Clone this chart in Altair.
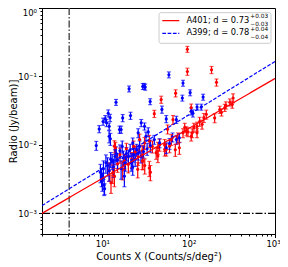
import altair as alt
import pandas as pd

# ---------------- data ----------------
series = ["A401", "A399"]
colors = ["#ff0000", "#0000ff"]

x_A401 = [96.6, 96.6, 184, 210, 48, 40, 70.6, 65.8, 107, 229, 262, 327, 320, 200, 125, 125, 110, 98, 86, 75,
          60, 55, 46, 42, 35, 36, 29.5, 25.7, 17.2, 13.8, 12.6, 13.8, 14.2, 30.8, 134, 143, 150, 160, 270, 300,
          240, 115, 94, 107, 78, 63, 52.7, 52.7, 44, 44, 29, 29, 26, 22, 20, 18, 16, 15, 19, 23,
          27, 35, 57, 90, 24, 12, 31, 70, 13.2, 38]
y_A401 = [0.25, 0.118, 0.125, 0.082, 0.046, 0.0286, 0.057, 0.0234, 0.035, 0.0328, 0.035, 0.0485, 0.039, 0.0248,
          0.0187, 0.015, 0.015, 0.0155, 0.015, 0.0127, 0.0096, 0.0086, 0.0101, 0.0077, 0.0046, 0.0040, 0.0058,
          0.0044, 0.0044, 0.0035, 0.0028, 0.0096, 0.0091, 0.0107, 0.022, 0.020, 0.025, 0.028, 0.038, 0.042,
          0.030, 0.018, 0.016, 0.0134, 0.0091, 0.012, 0.010, 0.0086, 0.0091, 0.0069, 0.0082, 0.0058, 0.0067,
          0.0062, 0.0052, 0.0058, 0.0072, 0.0053, 0.0088, 0.0095, 0.012, 0.0115, 0.017, 0.018, 0.0079, 0.0042,
          0.005, 0.0085, 0.0039, 0.0095]
f_A401 = [0.1, 0.12, 0.12, 0.12, 0.12, 0.12, 0.12, 0.15, 0.13, 0.12, 0.12, 0.15, 0.12, 0.15, 0.15, 0.15, 0.15,
          0.15, 0.15, 0.18, 0.2, 0.2, 0.2, 0.2, 0.25, 0.25, 0.25, 0.25, 0.3, 0.3, 0.3, 0.2, 0.2, 0.2, 0.15, 0.15,
          0.15, 0.15, 0.12, 0.12, 0.12, 0.15, 0.15, 0.15, 0.2, 0.18, 0.2, 0.2, 0.2, 0.2, 0.2, 0.25, 0.25, 0.25,
          0.25, 0.25, 0.25, 0.25, 0.2, 0.2, 0.2, 0.2, 0.15, 0.15, 0.22, 0.3, 0.25, 0.2, 0.3, 0.2]

x_A399 = [8.5, 9.2, 10.2, 10.8, 11.2, 11.7, 12.3, 14.4, 16.5, 17.2, 20.4, 21.2, 29.4, 30.6, 31.4, 28.2, 30.8,
          35.8, 49, 55, 59, 86, 104, 84.5, 147, 107, 125, 140, 112, 72, 72, 55, 46, 40, 32, 22.5, 21.6, 18,
          12, 12, 12.4, 15.8, 9.5, 9.8, 10, 10.3, 10.5, 10.6, 11, 11.5, 12, 12.5, 13, 13.5, 14, 14.5, 15, 16,
          16.5, 17, 17.5, 18.5, 19, 20, 21, 22, 22.5, 23, 24, 25, 26, 27, 28, 30, 33, 36, 60, 78, 65, 34, 26]
y_A399 = [0.0098, 0.0171, 0.022, 0.024, 0.021, 0.029, 0.025, 0.042, 0.0168, 0.0248, 0.066, 0.0268, 0.0716,
          0.072, 0.070, 0.021, 0.0187, 0.043, 0.033, 0.024, 0.106, 0.080, 0.058, 0.0485, 0.050, 0.031, 0.0358,
          0.0358, 0.029, 0.0234, 0.012, 0.0091, 0.0107, 0.012, 0.0134, 0.0107, 0.0055, 0.0035, 0.0134, 0.0187,
          0.0123, 0.0168, 0.004, 0.0035, 0.003, 0.0045, 0.0026, 0.0023, 0.0055, 0.005, 0.0042, 0.0062, 0.0058,
          0.0048, 0.0068, 0.0075, 0.006, 0.0082, 0.0045, 0.0095, 0.0065, 0.0055, 0.0075, 0.0068, 0.0085, 0.006,
          0.0048, 0.0072, 0.0062, 0.0085, 0.0075, 0.0095, 0.0068, 0.008, 0.0088, 0.0098, 0.0105, 0.0127, 0.013,
          0.0155, 0.015]
f_A399 = [0.15, 0.12, 0.12, 0.12, 0.12, 0.12, 0.12, 0.1, 0.12, 0.12, 0.1, 0.12, 0.1, 0.1, 0.1, 0.12, 0.12, 0.1,
          0.12, 0.12, 0.1, 0.1, 0.1, 0.1, 0.1, 0.12, 0.1, 0.1, 0.12, 0.12, 0.15, 0.18, 0.15, 0.15, 0.15, 0.18,
          0.25, 0.3, 0.2, 0.12, 0.2, 0.12, 0.3, 0.3, 0.3, 0.3, 0.3, 0.18, 0.3, 0.3, 0.3, 0.25, 0.25, 0.3, 0.25,
          0.25, 0.25, 0.22, 0.3, 0.2, 0.25, 0.25, 0.22, 0.22, 0.2, 0.25, 0.25, 0.22, 0.22, 0.2, 0.2, 0.2, 0.2,
          0.2, 0.2, 0.2, 0.18, 0.15, 0.15, 0.15, 0.15]

fit_slopes = [0.73, 0.78]
fit_norms = [1.0e-3, 1.3e-3]      # fit value at x = 2
fit_x = [2, 1000]
x_cut = [4.13]
y_cut = [1e-3]

legend_labels = ["A401; d = 0.73", "A399; d = 0.78"]
legend_sup = ["+0.03", "+0.04"]
legend_sub = ["\u22120.03", "\u22120.04"]

x_ticks = [2, 3, 4, 5, 6, 7, 8, 9, 10, 20, 30, 40, 50, 60, 70, 80, 90,
           100, 200, 300, 400, 500, 600, 700, 800, 900, 1000]
y_ticks = [0.0005, 0.0006, 0.0007, 0.0008, 0.0009, 0.001, 0.002, 0.003, 0.004, 0.005, 0.006, 0.007, 0.008,
           0.009, 0.01, 0.02, 0.03, 0.04, 0.05, 0.06, 0.07, 0.08, 0.09, 0.1, 0.2, 0.3, 0.4, 0.5, 0.6, 0.7,
           0.8, 0.9, 1]

# ---------------- tables ----------------
rows = []
for s, xs, ys, fs in [("A401", x_A401, y_A401, f_A401), ("A399", x_A399, y_A399, f_A399)]:
    for x, y, f in zip(xs, ys, fs):
        rows.append({"series": s, "x": x, "y": y, "lo": y * (1 - f), "hi": y * (1 + f)})
pts = pd.DataFrame(rows)

fit_rows = []
for s, d, n in zip(series, fit_slopes, fit_norms):
    for x in fit_x:
        fit_rows.append({"series": s, "x": x, "y": n * (x / fit_x[0]) ** d})
fits = pd.DataFrame(fit_rows)

# ---------------- scales / axes ----------------
xscale = alt.Scale(type="log", domain=[2, 1000], nice=False)
yscale = alt.Scale(type="log", domain=[5e-4, 1], nice=False)

x_axis = alt.Axis(
    values=x_ticks,
    title="Counts X (Counts/s/deg²)",
    labelExpr="datum.value == 10 ? '10¹' : datum.value == 100 ? '10²' : datum.value == 1000 ? '10³' : ''",
    tickSize={"condition": {"test": "datum.value == 10 || datum.value == 100 || datum.value == 1000",
                            "value": 3.5}, "value": 2},
    labelOffset={"condition": {"test": "datum.value == 1000", "value": -2}, "value": 0},
    labelFlush=False, labelOverlap=False, grid=False,
    labelFontSize=8.5, titleFontSize=10, labelPadding=2, titlePadding=3,
)
y_axis = alt.Axis(
    values=y_ticks,
    title="Radio (Jy/beam)]",
    labelExpr="datum.value == 1 ? '10⁰' : datum.value == 0.1 ? '10⁻¹' : datum.value == 0.01 ? '10⁻²' : datum.value == 0.001 ? '10⁻³' : ''",
    tickSize={"condition": {"test": "datum.value == 1 || datum.value == 0.1 || datum.value == 0.01 || datum.value == 0.001",
                            "value": 3.5}, "value": 2},
    labelBaseline={"condition": {"test": "datum.value == 1", "value": "top"}, "value": "middle"},
    labelFlush=False, labelOverlap=False, grid=False,
    labelFontSize=8.5, titleFontSize=10, labelPadding=2, titleX=-24,
)

X = alt.X("x:Q", scale=xscale, axis=x_axis)
color = alt.Color("series:N", scale=alt.Scale(domain=series, range=colors), legend=None)

err = alt.Chart(pts).mark_rule(strokeWidth=1.2).encode(
    x=X, y=alt.Y("lo:Q", scale=yscale, axis=y_axis), y2="hi:Q", color=color)
cap_lo = alt.Chart(pts).mark_tick(orient="horizontal", size=4, thickness=1.1).encode(
    x=X, y=alt.Y("lo:Q", scale=yscale, axis=y_axis), color=color)
cap_hi = alt.Chart(pts).mark_tick(orient="horizontal", size=4, thickness=1.1).encode(
    x=X, y=alt.Y("hi:Q", scale=yscale, axis=y_axis), color=color)
dots = alt.Chart(pts).mark_circle(size=10, opacity=1).encode(
    x=X, y=alt.Y("y:Q", scale=yscale, axis=y_axis), color=color)

fit_lines = alt.Chart(fits).mark_line(strokeWidth=1.2, clip=True).encode(
    x=X, y=alt.Y("y:Q", scale=yscale, axis=y_axis), color=color,
    strokeDash=alt.StrokeDash("series:N", scale=alt.Scale(domain=series, range=[[1, 0], [3.7, 1.6]]), legend=None),
)

vline = alt.Chart(pd.DataFrame({"x": x_cut})).mark_rule(
    color="#555555", strokeWidth=1.5, strokeDash=[7, 2, 1.5, 2]).encode(x=X)
hline = alt.Chart(pd.DataFrame({"y": y_cut})).mark_rule(
    color="black", strokeWidth=1.2, strokeDash=[7, 2, 1.5, 2]).encode(
    y=alt.Y("y:Q", scale=yscale, axis=y_axis))

# ---------------- legend (drawn by hand for super/subscripts) ----------------
one = pd.DataFrame({"k": [0]})
legend_layers = [
    alt.Chart(one).mark_rect(fill="white", fillOpacity=0.85, stroke="#cccccc", strokeWidth=1, cornerRadius=2).encode(
        x=alt.value(117), x2=alt.value(229), y=alt.value(4.7), y2=alt.value(35.3))
]
dashes = [[1, 0], [3.7, 1.6]]
for i in range(2):
    yy = 12.7 + i * 12.6
    legend_layers.append(
        alt.Chart(one).mark_rule(color=colors[i], strokeWidth=1.2, strokeDash=dashes[i]).encode(
            x=alt.value(120.3), x2=alt.value(137.3), y=alt.value(yy)))
    legend_layers.append(
        alt.Chart(pd.DataFrame({"t": [legend_labels[i]]})).mark_text(
            align="right", baseline="middle", fontSize=8.3, font="DejaVu Sans", color="black").encode(
            x=alt.value(207.3), y=alt.value(yy), text="t:N"))
    legend_layers.append(
        alt.Chart(pd.DataFrame({"t": [legend_sup[i]]})).mark_text(
            align="left", baseline="middle", fontSize=5.8, font="DejaVu Sans", color="black").encode(
            x=alt.value(208.3), y=alt.value(yy - 4.3), text="t:N"))
    legend_layers.append(
        alt.Chart(pd.DataFrame({"t": [legend_sub[i]]})).mark_text(
            align="left", baseline="middle", fontSize=5.8, font="DejaVu Sans", color="black").encode(
            x=alt.value(208.3), y=alt.value(yy + 3.6), text="t:N"))

chart = alt.layer(err, cap_lo, cap_hi, dots, vline, hline, fit_lines, *legend_layers).properties(
    width=233, height=226,
    autosize=alt.AutoSizeParams(type="none"),
    padding={"left": 34, "top": 0, "right": 5, "bottom": 30},
).configure_view(stroke="black", strokeWidth=1).configure_axis(
    domainColor="black", tickColor="black", labelColor="black", titleColor="black",
    labelFont="DejaVu Sans", titleFont="DejaVu Sans", titleFontWeight="normal",
).configure_text(font="DejaVu Sans")

chart.save("out.html", embed_options={"renderer": "svg", "actions": False})
